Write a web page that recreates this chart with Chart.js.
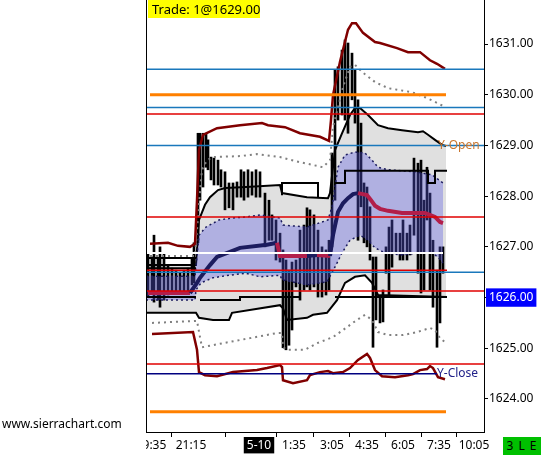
<!DOCTYPE html>
<html><head><meta charset="utf-8">
<script src="https://cdn.jsdelivr.net/npm/chart.js@4/dist/chart.umd.min.js"></script>
<style>
html,body{margin:0;padding:0;background:#fff;}
#wrap{position:relative;width:541px;height:455px;overflow:hidden;font-family:"Noto Sans",sans-serif;}
canvas{position:absolute;left:0;top:0;}
.trade{position:absolute;left:148px;top:0;height:18px;width:112px;background:#ffff00;font-size:13px;line-height:18px;padding-left:4px;box-sizing:border-box;color:#000;white-space:nowrap;}
.site{position:absolute;left:2px;top:416px;font-size:12px;line-height:16px;color:#000;}
.tag{position:absolute;left:503px;top:437px;width:38px;height:18px;background:#00c000;font-size:12px;line-height:18px;text-align:center;color:#000;letter-spacing:1px;}
</style></head>
<body><div id="wrap">
<canvas id="c" width="541" height="455"></canvas>
<div class="trade">Trade: 1@1629.00</div>
<div class="site">www.sierrachart.com</div>
<div class="tag">3 L E</div>
</div>
<script>
// ---- axis / ticks ----
const xTickPos = [2.5, 22.5, 56.5, 74, 93, 110.5, 128.5, 146.5, 164];
const xTickLabels = ['19:35', '21:15', '5-10', '1:35', '3:05', '4:35', '6:05', '7:35', '10:05'];
const yTicks = [1624, 1625, 1626, 1627, 1628, 1629, 1630, 1631];
const yMin = 1623.349, yMax = 1631.868;
const lastPrice = 1626.00;

// ---- price bars (bar index, high, low) ----
const barX = [1,3,4,6,7,9,11,13,15,17,19,21,23,24,26,27,28.5,30,31,32.5,34,36,37.5,39.5,41.5,43.5,45.5,47.5,49,51,53,55,57,59.5,61.5,63,65,67,68.5,70,71.5,73,75,77,79,80.5,82,84,86,88,90,91.5,93,94.5,96,98,99.5,101,103,104.5,106,107.5,109,110.5,112,113.5,115,117,118.5,120,121.5,123,125,127,128.5,130.5,132,134,136,137.5,139,140.5,142,143.5,145.5,147,148.5];
const barHigh = [1626.88,1626.80,1627.23,1626.78,1627.00,1626.88,1626.64,1626.58,1626.54,1626.50,1626.54,1626.58,1626.78,1627.08,1629.24,1629.24,1629.24,1629.24,1629.11,1628.77,1628.75,1628.71,1628.52,1628.48,1628.26,1628.26,1628.28,1628.52,1628.48,1628.52,1628.48,1628.52,1628.48,1628.06,1627.92,1627.63,1627.53,1627.27,1626.94,1626.74,1626.54,1626.70,1626.74,1627.33,1627.43,1627.77,1627.73,1627.63,1627.33,1627.00,1626.94,1627.13,1628.85,1630.49,1630.55,1630.88,1631.08,1631.02,1630.82,1630.49,1629.90,1629.44,1628.26,1628.18,1627.79,1626.80,1626.80,1626.01,1626.15,1627.00,1627.39,1627.53,1627.27,1627.27,1627.53,1627.27,1627.43,1628.75,1628.65,1628.71,1627.92,1628.57,1628.06,1627.13,1626.54,1627.00,1627.00];
const barLow = [1626.01,1626.09,1625.91,1625.95,1625.81,1625.95,1626.05,1626.11,1626.09,1626.11,1626.09,1626.11,1626.25,1626.29,1627.08,1627.92,1628.18,1628.57,1628.52,1628.32,1628.22,1628.22,1628.18,1627.73,1627.77,1627.73,1627.98,1627.98,1627.92,1627.98,1628.02,1627.98,1627.98,1627.00,1627.13,1627.13,1626.74,1626.70,1625.01,1624.97,1625.06,1625.36,1626.21,1625.95,1626.15,1626.21,1626.15,1626.21,1626.01,1626.01,1626.05,1626.15,1627.00,1627.92,1629.50,1629.60,1629.50,1629.24,1629.90,1629.44,1627.13,1627.79,1627.08,1627.00,1626.74,1625.02,1625.56,1625.50,1625.52,1626.48,1626.01,1626.60,1626.88,1626.74,1626.74,1626.74,1626.84,1627.23,1626.48,1626.09,1626.15,1627.53,1626.15,1625.81,1625.02,1625.50,1626.48];

// ---- study lines ([bar index, price]) ----
const maroonUpper = [[2,1627.06],[11,1627.08],[16,1627.02],[22,1627.00],[24.5,1627.06],[25.5,1627.92],[26.5,1628.91],[28.5,1629.21],[35.5,1629.34],[47,1629.40],[58,1629.44],[61,1629.40],[69.5,1629.36],[77,1629.24],[87,1629.17],[91.5,1629.09],[92.5,1629.50],[93.5,1629.99],[97,1630.65],[101,1631.28],[103,1631.41],[105,1631.41],[108.5,1631.22],[114.5,1631.04],[117,1631.02],[125.5,1630.92],[131,1630.84],[137,1630.84],[142,1630.68],[145.5,1630.61],[149.5,1630.51]];
const maroonLower = [[3,1625.28],[23.5,1625.32],[25.5,1624.97],[26.5,1624.53],[29.5,1624.47],[35.5,1624.45],[43.5,1624.53],[55.5,1624.57],[60.5,1624.61],[67,1624.67],[68,1624.63],[68.5,1624.37],[73.5,1624.31],[80.5,1624.37],[82,1624.47],[87,1624.53],[91,1624.55],[93.5,1624.51],[98.5,1624.53],[102,1624.61],[106,1624.77],[110.5,1624.89],[112,1624.81],[114.5,1624.57],[118,1624.45],[124.5,1624.43],[131,1624.47],[133.5,1624.49],[137,1624.57],[140.5,1624.59],[142,1624.65],[143.5,1624.61],[146,1624.43],[149.5,1624.39]];
const grayDotUpper = [[2,1626.82],[24.5,1626.82],[26.5,1627.86],[28,1628.52],[30.5,1628.71],[33.5,1628.77],[47,1628.79],[55.5,1628.83],[67,1628.77],[77,1628.67],[88.5,1628.57],[92,1628.71],[93.5,1629.36],[98.5,1630.15],[102,1630.55],[104.5,1630.59],[108,1630.45],[114.5,1630.25],[121,1630.13],[133,1630.05],[139.5,1629.95],[144.5,1629.86],[149.5,1629.76]];
const grayDotLower = [[3,1625.50],[25.5,1625.54],[27,1625.22],[28,1625.02],[38.5,1625.10],[52,1625.20],[65.5,1625.30],[68,1625.30],[68.5,1625.02],[70.5,1624.97],[79.5,1624.97],[85.5,1625.10],[93.5,1625.22],[98.5,1625.36],[105.5,1625.56],[109.5,1625.66],[113,1625.56],[116,1625.32],[121,1625.26],[128.5,1625.26],[135.5,1625.32],[142,1625.40],[144.5,1625.36],[147,1625.20],[149.5,1625.12]];
const grayBandUpper = [[0,1626.64],[25,1626.64],[26.5,1627.53],[29.5,1627.83],[32,1627.98],[36,1628.12],[39.5,1628.16],[50,1628.18],[67,1628.22],[68,1628.06],[80.5,1627.98],[91,1627.96],[92,1628.06],[94.5,1628.91],[98,1629.24],[102,1629.60],[104.5,1629.74],[107,1629.74],[111,1629.60],[116,1629.40],[121,1629.34],[128,1629.30],[136,1629.26],[138.5,1629.28],[141,1629.21],[144.5,1629.11],[148,1629.01],[150,1628.99]];
const grayBandLower = [[0,1625.70],[25,1625.70],[26.5,1625.60],[33.5,1625.56],[41.5,1625.56],[43,1625.70],[67,1625.85],[68.5,1625.79],[70.5,1625.56],[80.5,1625.60],[83.5,1625.66],[90.5,1625.70],[95.5,1625.95],[99.5,1626.29],[104.5,1626.41],[109.5,1626.44],[113,1626.29],[116,1626.05],[150.5,1626.01]];
const purpleUpper = [[0,1626.42],[24.5,1626.42],[26.5,1627.23],[30,1627.39],[36.5,1627.53],[43.5,1627.57],[50,1627.59],[57,1627.63],[67,1627.57],[68.5,1627.43],[80.5,1627.39],[91,1627.53],[93,1627.79],[96,1628.57],[99.5,1628.81],[104.5,1628.87],[109.5,1628.85],[113,1628.71],[116,1628.57],[121,1628.52],[128,1628.50],[134.5,1628.48],[143,1628.42],[148.5,1628.26]];
const purpleLower = [[0,1625.95],[24.5,1625.95],[25,1626.15],[27.5,1626.29],[33.5,1626.39],[41.5,1626.44],[50,1626.48],[57,1626.41],[67,1626.44],[68,1626.35],[80.5,1626.25],[90.5,1626.31],[95,1626.64],[98,1626.88],[102,1627.13],[107,1627.23],[111,1627.13],[114.5,1626.98],[119.5,1626.88],[128,1626.84],[136,1626.88],[143,1626.88],[146,1626.80],[148.5,1626.68]];
const centerLine = [[1,1626.09],[22,1626.09],[25.5,1626.29],[27,1626.39],[32,1626.64],[35.5,1626.80],[47,1626.98],[60.5,1627.04],[65.5,1627.08],[67,1626.82],[80.5,1626.82],[85.5,1626.84],[92,1626.82],[93.5,1627.23],[96,1627.69],[98.5,1627.86],[101,1627.96],[103.5,1628.04],[106,1628.06],[110.5,1628.02],[112.5,1627.92],[114.5,1627.81],[117,1627.75],[121,1627.71],[128,1627.67],[134.5,1627.67],[139.5,1627.67],[144.5,1627.59],[147,1627.49],[148.5,1627.47]];
const stepUpper = [[0,1626.78],[25,1626.78],[25,null],[0,1626.58],[25,1626.58],[25,null],[68,1628.02],[68,1628.26],[86,1628.26],[86,1627.98],[86,null],[94.5,1628.26],[99.5,1628.26],[99.5,1628.50],[141,1628.50],[141,1628.26],[144.5,1628.26],[144.5,1628.50],[150.5,1628.50]];
const stepLower = [[0,1626.01],[25,1626.01],[25,null],[27,1625.95],[47,1625.95],[47,1626.01],[77,1626.01],[77,null],[94.5,1626.01],[150.5,1626.01]];

// ---- horizontal levels ----
const blueLevels = [1630.50, 1629.75, 1629.00, 1626.50];
const redLevels = [1629.62, 1627.59, 1626.13, 1624.69];
const redShortLevel = 1626.54;
const orangeLevels = [1630.00, 1623.75];
const yOpen = 1629.00;
const yClose = 1624.50;
const whiteLevel = 1626.88;
const sessionEnd = 150.5, xEnd = 169;

const NAVY = '#1c1c5e', CRIMSON = '#b21e4a';
const P = a => a.map(([x, y]) => ({x, y}));
const flat = (v, x0, x1) => [{x: x0, y: v}, {x: x1, y: v}];
const datasets = [];
function add(ds) {
  datasets.push(Object.assign({type: 'line', pointRadius: 0, borderWidth: 1, fill: false, tension: 0, spanGaps: false}, ds));
  return datasets.length - 1;
}

// bars (bottom)
datasets.push({type: 'bar', order: 30, data: barX.map((x, i) => ({x, y: [barLow[i], barHigh[i]]})),
  backgroundColor: '#000', borderWidth: 0, barThickness: 2});

// gray band
const gL = add({order: 20, data: P(grayBandLower), borderColor: '#000', borderWidth: 2});
add({order: 21, data: P(grayBandUpper), borderColor: '#000', borderWidth: 2, fill: gL, backgroundColor: 'rgba(0,0,0,0.12)'});
// purple band
const pL = add({order: 18, data: P(purpleLower), borderColor: NAVY, borderWidth: 1.5, borderDash: [2, 3]});
add({order: 19, data: P(purpleUpper), borderColor: NAVY, borderWidth: 1.5, borderDash: [2, 3], fill: pL, backgroundColor: 'rgba(90,90,224,0.36)'});
// step lines
add({order: 12, data: P(stepUpper), borderColor: '#000', borderWidth: 2});
add({order: 12, data: P(stepLower), borderColor: '#000', borderWidth: 2});
// dotted gray
add({order: 11, data: P(grayDotUpper), borderColor: '#808080', borderWidth: 2, borderDash: [2, 4]});
add({order: 11, data: P(grayDotLower), borderColor: '#808080', borderWidth: 2, borderDash: [2, 4]});
// maroon
add({order: 10, data: P(maroonUpper), borderColor: '#800000', borderWidth: 2.5});
add({order: 10, data: P(maroonLower), borderColor: '#800000', borderWidth: 2.5});
// center line
add({order: 8, data: P(centerLine), borderColor: NAVY, borderWidth: 4,
  segment: {borderColor: c => c.p1.parsed.y > c.p0.parsed.y ? NAVY : CRIMSON}});
// levels
add({order: 5, data: flat(whiteLevel, 0, 148.5), borderColor: '#ffffff', borderWidth: 2});
orangeLevels.forEach(v => add({order: 4, data: flat(v, 2, 150), borderColor: '#ff8000', borderWidth: 3}));
redLevels.forEach(v => add({order: 3, data: flat(v, 0, xEnd), borderColor: '#e00000', borderWidth: 1.5}));
add({order: 3, data: flat(redShortLevel, 0, sessionEnd), borderColor: '#e00000', borderWidth: 1.5});
blueLevels.forEach(v => add({order: 2, data: flat(v, 0, xEnd), borderColor: '#1a78bc', borderWidth: 1.5}));
add({order: 2, data: flat(yClose, 0, 145.5), borderColor: '#000080', borderWidth: 1.5});

const deco = {
  id: 'deco',
  afterDatasetsDraw(chart) {
    const {ctx, scales: {x, y}} = chart;
    ctx.save();
    ctx.font = '12px "Noto Sans"';
    ctx.textBaseline = 'middle';
    ctx.textAlign = 'left';
    ctx.fillStyle = '#c8742c';
    ctx.fillText('Y-Open', x.getPixelForValue(146), y.getPixelForValue(yOpen));
    ctx.fillStyle = '#22228a';
    ctx.fillText('Y-Close', x.getPixelForValue(145.5), y.getPixelForValue(yClose));
    ctx.restore();
  },
  afterDraw(chart) {
    const {ctx, chartArea: a} = chart;
    ctx.save();
    ctx.fillStyle = '#fff';
    ctx.fillRect(0, a.bottom + 1, a.left, chart.height);
    ctx.strokeStyle = '#000';
    ctx.lineWidth = 1;
    ctx.beginPath();
    ctx.moveTo(a.left + 0.5, 0);
    ctx.lineTo(a.left + 0.5, a.bottom);
    ctx.stroke();
    ctx.restore();
  }
};

new Chart(document.getElementById('c'), {
  type: 'line',
  data: {datasets},
  options: {
    responsive: false, animation: false, devicePixelRatio: 1,
    layout: {padding: {left: 146, top: 0, right: 0, bottom: 0}},
    plugins: {legend: {display: false}, tooltip: {enabled: false}},
    elements: {point: {radius: 0}},
    scales: {
      x: {
        type: 'linear', min: 0, max: xEnd, offset: false,
        grid: {drawOnChartArea: false, drawTicks: true, tickLength: 5, color: '#000'},
        border: {display: true, color: '#000', width: 1},
        afterBuildTicks: s => { s.ticks = xTickPos.map(v => ({value: v})); },
        afterFit: s => { s.height = 23; s.paddingLeft = 0; s.paddingRight = 0; },
        ticks: {
          autoSkip: false, maxRotation: 0, minRotation: 0, padding: 1,
          font: {family: 'Noto Sans', size: 12},
          callback: (v, i) => xTickLabels[i],
          color: c => xTickLabels[c.index] === '5-10' ? '#fff' : '#000',
          showLabelBackdrop: true,
          backdropColor: c => xTickLabels[c.index] === '5-10' ? '#000' : 'rgba(0,0,0,0)',
          backdropPadding: {top: 1, bottom: 1, left: 3, right: 3}
        }
      },
      y: {
        type: 'linear', position: 'right', min: yMin, max: yMax,
        grid: {drawOnChartArea: false, tickLength: 4, color: '#000'},
        border: {display: true, color: '#000', width: 1},
        afterBuildTicks: s => { s.ticks = yTicks.map(v => ({value: v})); },
        afterFit: s => { s.width = 57; s.paddingTop = 0; s.paddingBottom = 0; },
        ticks: {
          padding: 1, font: {family: 'Noto Sans', size: 12},
          callback: v => Number(v).toFixed(2),
          color: c => (c.tick && c.tick.value === lastPrice) ? '#fff' : '#000',
          showLabelBackdrop: true,
          backdropColor: c => (c.tick && c.tick.value === lastPrice) ? '#0000ff' : 'rgba(0,0,0,0)',
          backdropPadding: {top: 2, bottom: 2, left: 3, right: 3}
        }
      }
    }
  },
  plugins: [deco]
});
</script>
</body></html>
